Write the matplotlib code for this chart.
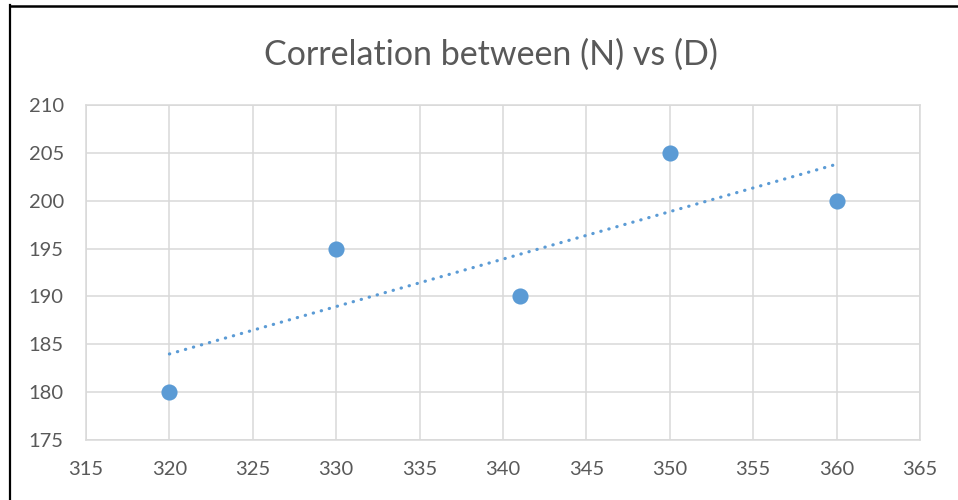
import numpy as np
import matplotlib.pyplot as plt
from matplotlib.lines import Line2D

# data
n_vals = [320, 330, 341, 350, 360]
d_vals = [180, 195, 190, 205, 200]
x_ticks = list(range(315, 366, 5))
y_ticks = list(range(175, 211, 5))

plt.rcParams['font.family'] = ['Lato', 'DejaVu Sans']

fig = plt.figure(figsize=(9.58, 5.0), dpi=100)
ax = fig.add_axes([0.0898, 0.12, 0.8705, 0.67])

# linear trendline
slope, icpt = np.polyfit(n_vals, d_vals, 1)
tx = np.array([min(n_vals), max(n_vals)])
ax.plot(tx, slope * tx + icpt, color='#5B9BD5', lw=2.3, ls=(0, (0.1, 2.5)),
        dash_capstyle='round', zorder=3)

ax.scatter(n_vals, d_vals, s=135, color='#5B9BD5', zorder=4, linewidths=0)

ax.set_xlim(315, 365)
ax.set_ylim(175, 210)
ax.set_xticks(x_ticks)
ax.set_yticks(y_ticks)
ax.grid(True, color='#D9D9D9', lw=1.1)
ax.set_axisbelow(True)
for s in ax.spines.values():
    s.set_color('#D9D9D9')
    s.set_linewidth(1.1)
ax.tick_params(length=0, labelsize=14.5, colors='#595959')
ax.tick_params(axis='x', pad=15)
ax.tick_params(axis='y', pad=16)

fig.text(0.512, 0.89, 'Correlation between (N) vs (D)', ha='center', va='center',
         fontsize=24.5, color='#595959')

# outer chart frame (only left and top visible in the crop)
fig.add_artist(Line2D([9.5 / 958, 9.5 / 958], [0, 1 - 5 / 500], color='black', lw=1.6))
fig.add_artist(Line2D([9.5 / 958, 1], [1 - 5.5 / 500, 1 - 5.5 / 500], color='black', lw=1.8))

fig.savefig('out.png', dpi=100)
